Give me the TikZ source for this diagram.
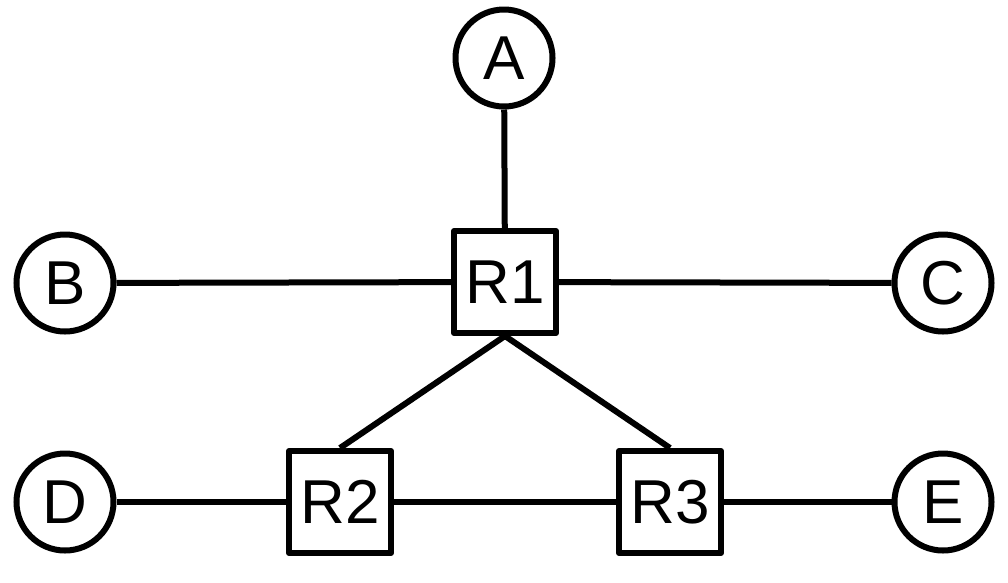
\documentclass[tikz,border=0pt]{standalone}
\usepackage{fontspec}
\setmainfont{Liberation Sans}
\begin{document}
\begin{tikzpicture}[x=1pt,y=-1pt,
  host/.style={circle,draw,line width=6pt,minimum size=97pt,inner sep=0pt,font=\fontsize{62}{62}\selectfont},
  router/.style={rectangle,draw,line width=6pt,line join=round,minimum size=102pt,inner sep=0pt,font=\fontsize{62}{62}\selectfont},
  link/.style={line width=6pt}]
\useasboundingbox (0,0) rectangle (1008,582);
\node[host] (A) at (504,58) {A};
\node[host] (B) at (65,283) {B};
\node[host] (C) at (943,283) {C};
\node[host] (D) at (65,502) {D};
\node[host] (E) at (943,502) {E};
\node[router] (R1) at (505,282) {R1};
\node[router] (R2) at (340,502) {R2};
\node[router] (R3) at (670,502) {R3};
\draw[link] (A) -- (R1);
\draw[link] (B) -- (R1);
\draw[link] (R1) -- (C);
\draw[link] (R1.south) -- (R2.north);
\draw[link] (R1.south) -- (R3.north);
\draw[link] (D) -- (R2);
\draw[link] (R2) -- (R3);
\draw[link] (R3) -- (E);
\end{tikzpicture}
\end{document}
